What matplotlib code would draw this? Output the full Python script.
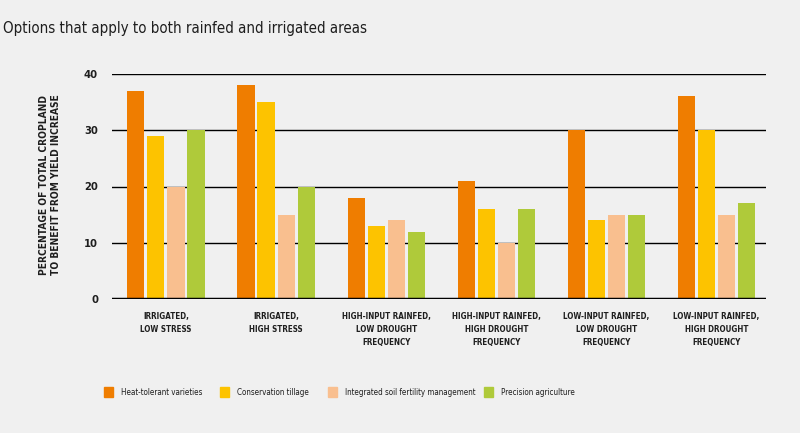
import numpy as np
import matplotlib.pyplot as plt
from matplotlib.patches import Patch

# ==== Data ====
groups = ['IRRIGATED,\nLOW STRESS',
          'IRRIGATED,\nHIGH STRESS',
          'HIGH-INPUT RAINFED,\nLOW DROUGHT\nFREQUENCY',
          'HIGH-INPUT RAINFED,\nHIGH DROUGHT\nFREQUENCY',
          'LOW-INPUT RAINFED,\nLOW DROUGHT\nFREQUENCY',
          'LOW-INPUT RAINFED,\nHIGH DROUGHT\nFREQUENCY']
series_names = ['Heat-tolerant varieties', 'Conservation tillage',
                'Integrated soil fertility management', 'Precision agriculture']
heat_tolerant = [37, 38, 18, 21, 30, 36]
conservation = [29, 35, 13, 16, 14, 30]
soil_fertility = [20, 15, 14, 10, 15, 15]
precision = [30, 20, 12, 16, 15, 17]
y_ticks = [0, 10, 20, 30, 40]

# ==== Style ====
BG = '#f0f0f0'
TXT = '#1e1e1e'
colors = ['#ef7d00', '#fdc300', '#f9bf8f', '#afca3a']
plt.rcParams['font.family'] = ['DejaVu Sans']
plt.rcParams['font.stretch'] = 'condensed'

fig = plt.figure(figsize=(8, 4.33), dpi=100, facecolor=BG)
ax = fig.add_axes([112 / 800, 1 - 299 / 433, (766 - 112) / 800, (299 - 74) / 433])
ax.set_facecolor(BG)

x = np.arange(len(groups))
width = 0.155
step = 0.182
all_series = [heat_tolerant, conservation, soil_fertility, precision]
for i, (vals, c, name) in enumerate(zip(all_series, colors, series_names)):
    ax.bar(x + (i - 1.5) * step, vals, width, color=c, label=name, zorder=3)

ax.set_xlim(-0.49, 5.45)
ax.set_ylim(0, 40)
ax.set_yticks(y_ticks)
ax.set_yticklabels([str(t) for t in y_ticks], fontsize=8, fontweight='bold', color=TXT)
ax.tick_params(axis='y', length=0, pad=10)
ax.set_xticks(x)
ax.set_xticklabels(groups, fontsize=5.8, fontweight='bold', color=TXT, linespacing=1.6)
ax.tick_params(axis='x', length=0, pad=9)

# horizontal rules behind the bars, heavier base line
for t in y_ticks[1:]:
    ax.axhline(t, color='black', lw=1.0, zorder=1)
ax.axhline(0, color='black', lw=2.5, zorder=4)
for s in ax.spines.values():
    s.set_visible(False)

fig.text(50 / 800, 1 - 185 / 433,
         'PERCENTAGE OF TOTAL CROPLAND\nTO BENEFIT FROM YIELD INCREASE',
         rotation=90, ha='center', va='center', fontsize=7.3, fontweight='bold',
         color=TXT, linespacing=1.2)

fig.text(3 / 800, 1 - 28 / 433, 'Options that apply to both rainfed and irrigated areas',
         fontsize=10.8, color=TXT, va='center', ha='left')

# one legend entry per slot so the squares sit where they do in the original
legend_x = [104, 220, 328, 484]
for c, name, lx in zip(colors, series_names, legend_x):
    fig.legend([Patch(color=c)], [name], loc='center left',
               bbox_to_anchor=(lx / 800, 1 - 392 / 433), frameon=False,
               fontsize=5.8, handlelength=1.15, handleheight=1.7, handletextpad=0.9,
               labelcolor=TXT, borderpad=0, borderaxespad=0)

fig.savefig('out.png', dpi=100, facecolor=BG)
